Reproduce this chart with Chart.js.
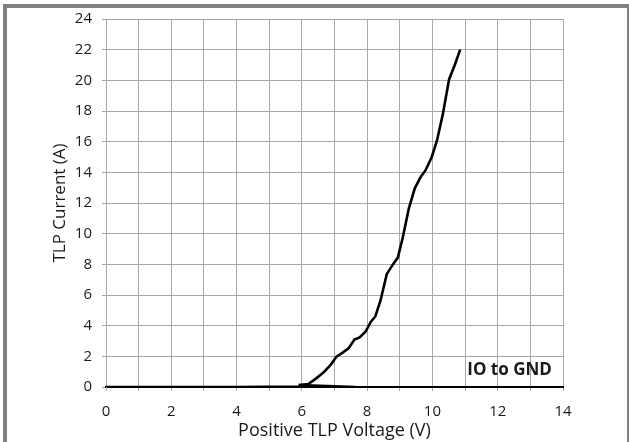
<!DOCTYPE html>
<html>
<head>
<meta charset="utf-8">
<script src="https://cdn.jsdelivr.net/npm/chart.js@4/dist/chart.umd.min.js"></script>
<style>
  html, body { margin: 0; padding: 0; background: #fff; }
  #wrap { position: relative; width: 629px; height: 442px; overflow: hidden; }
  #frame {
    position: absolute; left: 3px; top: 4px; width: 620px; height: 460px;
    border-top: 4px solid #808080; border-left: 4px solid #808080; border-right: 2px solid #808080;
    pointer-events: none;
  }
  canvas { position: absolute; left: 0; top: 0; }
</style>
</head>
<body>
<div id="wrap">
  <canvas id="myChart" width="629" height="442"></canvas>
  <div id="frame"></div>
</div>
<script>
// TLP curve, IO to GND
const voltage = [0, 2, 4, 5.9, 7.65, 5.9, 6.2, 6.45, 6.69, 6.88, 7.06, 7.25, 7.43, 7.61, 7.77, 7.95,
  8.11, 8.25, 8.41, 8.6, 8.76, 8.94, 9.09, 9.28, 9.46, 9.64, 9.79, 9.98, 10.14, 10.32, 10.51, 10.69, 10.85];
const current = [0, 0, 0, 0.03, 0.0, 0.12, 0.2, 0.58, 1.0, 1.44, 1.98, 2.24, 2.52, 3.1, 3.23, 3.6,
  4.24, 4.6, 5.64, 7.36, 7.9, 8.44, 9.73, 11.67, 12.96, 13.7, 14.14, 15.0, 16.08, 17.8, 20.06, 21.03, 22.0];
const xTicks = [0, 2, 4, 6, 8, 10, 12, 14];
const yTicks = [0, 2, 4, 6, 8, 10, 12, 14, 16, 18, 20, 22, 24];
const xTitle = 'Positive TLP Voltage (V)';
const yTitle = 'TLP Current (A)';
const label = 'IO to GND';

const FONT = "'Open Sans', 'Noto Sans', sans-serif";

const labelPlugin = {
  id: 'labelText',
  afterDatasetsDraw(chart) {
    const c = chart.ctx;
    const x = chart.scales.x.getPixelForValue(13.66);
    const y = chart.scales.y.getPixelForValue(1.1);
    c.save();
    c.font = "bold 17px " + FONT;
    c.fillStyle = '#1a1a1a';
    c.textAlign = 'right';
    c.textBaseline = 'middle';
    c.fillText(label, x, y);
    c.restore();
  }
};

const data = {
  datasets: [{
    label: label,
    data: voltage.map((v, i) => ({x: v, y: current[i]})),
    showLine: true,
    borderColor: '#000',
    borderWidth: 2.6,
    pointRadius: 0,
    tension: 0,
    fill: false
  }]
};

const config = {
  type: 'scatter',
  data: data,
  options: {
    responsive: false,
    animation: false,
    layout: { padding: { left: 50, right: 66, top: 18, bottom: 0 } },
    plugins: { legend: { display: false }, tooltip: { enabled: false } },
    scales: {
      x: {
        type: 'linear', min: 0, max: 14,
        afterBuildTicks: (s) => { s.ticks = []; for (let v = 0; v <= 14; v++) s.ticks.push({value: v}); },
        afterFit: (s) => { s.height = 55; },
        ticks: {
          autoSkip: false, maxRotation: 0, color: '#1a1a1a', padding: 12,
          font: { family: FONT, size: 15 },
          callback: (v) => xTicks.includes(v) ? String(v) : ''
        },
        grid: { color: '#a8a8a8', lineWidth: 1, tickLength: 4 },
        border: { color: '#000', width: 2 },
        title: { display: true, text: xTitle, color: '#1a1a1a', font: { family: FONT, size: 18 }, padding: { top: 0, bottom: 0 } }
      },
      y: {
        type: 'linear', min: 0, max: 24,
        afterBuildTicks: (s) => { s.ticks = yTicks.map(v => ({value: v})); },
        afterFit: (s) => { s.width = 56; },
        ticks: { color: '#1a1a1a', padding: 10, font: { family: FONT, size: 15 } },
        grid: { color: '#a8a8a8', lineWidth: 1, tickLength: 4 },
        border: { color: '#a8a8a8', width: 1 },
        title: { display: true, text: yTitle, color: '#1a1a1a', font: { family: FONT, size: 17 }, padding: { top: 0, bottom: 0 } }
      }
    }
  },
  plugins: [labelPlugin]
};

const ctx = document.getElementById('myChart');
const chart = new Chart(ctx, config);
</script>
</body>
</html>
